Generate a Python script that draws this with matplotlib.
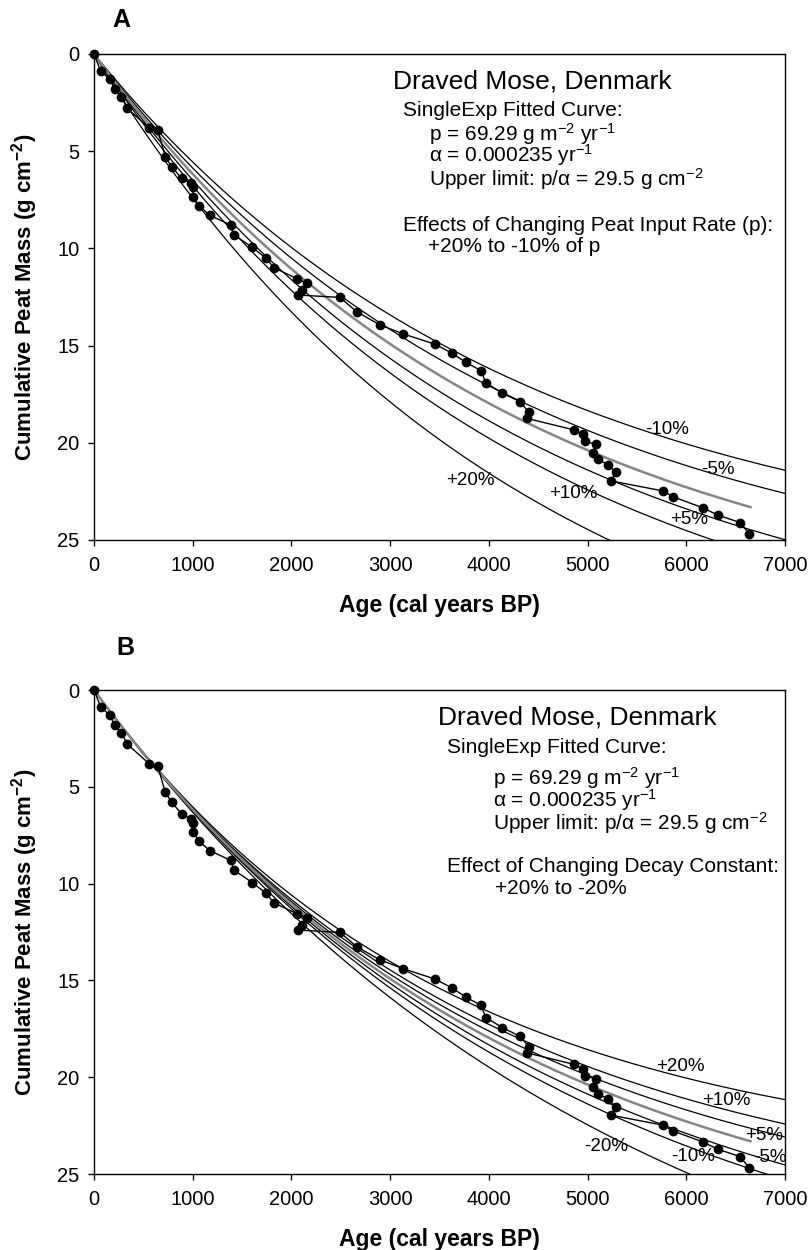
import numpy as np
import matplotlib
matplotlib.use("Agg")
import matplotlib.pyplot as plt

plt.rcParams['font.family'] = ['Liberation Sans', 'DejaVu Sans']
plt.rcParams['mathtext.fontset'] = 'custom'
plt.rcParams['mathtext.rm'] = 'Liberation Sans'
plt.rcParams['mathtext.it'] = 'Liberation Sans:italic'
plt.rcParams['mathtext.bf'] = 'Liberation Sans:bold'

# measured core: age (cal yr BP) and cumulative peat mass (g cm-2)
age = [0, 68, 160, 212, 278, 338, 557, 646, 722, 787, 888, 980, 1000, 1006,
       1064, 1175, 1385, 1418, 1604, 1743, 1824, 2053, 2161, 2104, 2070, 2492,
       2661, 2898, 3134, 3455, 3630, 3766, 3921, 3969, 4138, 4316, 4405, 4383,
       4865, 4954, 4970, 5086, 5052, 5105, 5204, 5287, 5236, 5768, 5862, 6166,
       6325, 6545, 6640]
mass = [0, 0.88, 1.3, 1.82, 2.22, 2.8, 3.8, 3.93, 5.28, 5.8, 6.4, 6.65, 6.85,
        7.34, 7.82, 8.3, 8.8, 9.3, 9.95, 10.5, 11.0, 11.55, 11.8, 12.15, 12.4,
        12.52, 13.26, 13.94, 14.4, 14.93, 15.4, 15.86, 16.29, 16.92, 17.44,
        17.89, 18.43, 18.74, 19.34, 19.57, 19.92, 20.08, 20.52, 20.85, 21.12,
        21.52, 21.96, 22.48, 22.77, 23.34, 23.73, 24.1, 24.7]

# fitted single exponential model
p = 69.29 * 1e-4      # g cm-2 yr-1
alpha = 0.000235      # yr-1
fit_end = 6650

# sensitivity runs
p_changes = [0.20, 0.10, 0.05, -0.05, -0.10]
alpha_changes = [0.20, 0.10, 0.05, -0.05, -0.10, -0.20]

# curve labels: (text, age, mass)
labels_a = [('-10%', 5802, 19.31), ('-5%', 6325, 21.36), ('+10%', 4853, 22.61),
            ('+5%', 6031, 23.97), ('+20%', 3809, 21.96)]
labels_b = [('+20%', 5937, 19.46), ('+10%', 6410, 21.18), ('+5%', 6788, 22.99),
            ('-5%', 6849, 24.17), ('-10%', 6065, 24.1), ('-20%', 5187, 23.59)]


def model(t, pp, aa):
    return pp / aa * (1 - np.exp(-aa * t))


W, H = 809, 1250
fig = plt.figure(figsize=(W / 100, H / 100), dpi=100)


def px(x, y):
    return x / W, 1 - y / H


def setup(ax, h):
    ax.set_xlim(0, 7000)
    ax.set_ylim(25, 0)
    ax.set_xticks(range(0, 7001, 1000))
    ax.set_yticks(range(0, 26, 5))
    ax.tick_params(direction='out', length=4.5, width=1, labelsize=14.5)
    ax.tick_params(axis='x', pad=7)
    ax.tick_params(axis='y', pad=6)
    for s in ax.spines.values():
        s.set_linewidth(1)
    ax.set_xlabel('Age (cal years BP)', fontsize=16.5, fontweight='bold')
    ax.set_ylabel(r'Cumulative Peat Mass (g cm$^{\mathbf{-2}}$)', fontsize=16,
                  fontweight='bold')
    ax.xaxis.set_label_coords(0.5, -54 / h)
    ax.yaxis.set_label_coords(-0.078, 0.5)


t = np.linspace(0, 7000, 400)
t_fit = np.linspace(0, fit_end, 400)

# ---- panel A: changing input rate p
axA = fig.add_axes([94 / W, 1 - 540 / H, 691 / W, 486 / H])
for c in p_changes:
    axA.plot(t, model(t, p * (1 + c), alpha), color='black', lw=0.9)
axA.plot(t_fit, model(t_fit, p, alpha), color='#858585', lw=1.8)
axA.plot(age, mass, '-o', color='black', lw=1, ms=6, clip_on=False, zorder=5)
for txt, x, y in labels_a:
    axA.text(x, y, txt, fontsize=13.5, ha='center', va='center')
setup(axA, 486)

# ---- panel B: changing decay constant alpha
axB = fig.add_axes([94 / W, 1 - 1174 / H, 691 / W, 484 / H])
for c in alpha_changes:
    axB.plot(t, model(t, p, alpha * (1 + c)), color='black', lw=0.9)
axB.plot(t_fit, model(t_fit, p, alpha), color='#858585', lw=1.8)
axB.plot(age, mass, '-o', color='black', lw=1, ms=6, clip_on=False, zorder=5)
for txt, x, y in labels_b:
    axB.text(x, y, txt, fontsize=13.5, ha='center', va='center')
setup(axB, 484)

# panel letters
fig.text(*px(121, 27), 'A', fontsize=18, fontweight='bold', ha='center', va='baseline')
fig.text(*px(125, 655), 'B', fontsize=18, fontweight='bold', ha='center', va='baseline')

# annotation blocks
fit_lines = [
    'SingleExp Fitted Curve:',
    r'p = 69.29 g m$^{-2}$ yr$^{-1}$',
    r'α = 0.000235 yr$^{-1}$',
    r'Upper limit: p/α = 29.5 g cm$^{-2}$',
]


def block(x0, y0, x_sub, x_in, ys, effect, effect_range, x_range):
    fig.text(*px(x0, y0), 'Draved Mose, Denmark', fontsize=19, va='baseline')
    fig.text(*px(x_sub, ys[0]), fit_lines[0], fontsize=15, va='baseline')
    for line, y in zip(fit_lines[1:], ys[1:4]):
        fig.text(*px(x_in, y), line, fontsize=15, va='baseline')
    fig.text(*px(x_sub, ys[4]), effect, fontsize=15, va='baseline')
    fig.text(*px(x_range, ys[5]), effect_range, fontsize=15, va='baseline')


block(393, 88, 403, 429, [116, 141, 162, 186, 231, 252],
      'Effects of Changing Peat Input Rate (p):', '+20% to -10% of p', 428)
block(438, 725, 447, 493, [753, 785, 807, 830, 872, 894],
      'Effect of Changing Decay Constant:', '+20% to -20%', 495)

fig.savefig('out.png', dpi=100)
